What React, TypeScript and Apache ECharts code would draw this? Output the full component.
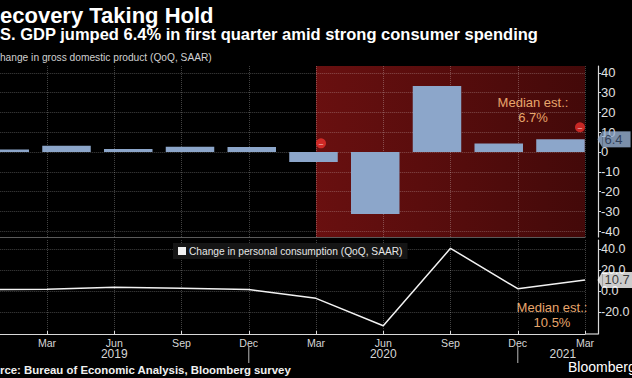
import React, { useEffect, useRef } from 'react';
import * as echarts from 'echarts';

// ---- data ----
const QUARTERS = ['Q4 2018', 'Q1 2019', 'Q2 2019', 'Q3 2019', 'Q4 2019', 'Q1 2020', 'Q2 2020', 'Q3 2020', 'Q4 2020', 'Q1 2021'];
const GDP = [1.2, 3.1, 1.5, 2.6, 2.5, -5.0, -31.4, 33.4, 4.3, 6.4];
const PCE = [1.4, 1.8, 3.7, 2.7, 1.6, -6.9, -33.2, 41.0, 2.3, 10.7];
const MONTHS = ['Mar', 'Jun', 'Sep', 'Dec'];
const YEARS = ['2019', '2020', '2021'];
const YEAR_DIVIDERS = [3, 7]; // tick index of Dec 2019 and Dec 2020
const TOP_TICKS = [-40, -30, -20, -10, 0, 10, 20, 30, 40];
const BOTTOM_TICKS = [-20, 0, 20, 40];
const GDP_MEDIAN = '6.7%';
const PCE_MEDIAN = '10.5%';
const RECESSION_START = 4; // tick index of Mar 2020
const MARKERS = [[4, 4.4], [8, 12.5]];

// ---- layout ----
const FONT = "'Liberation Sans', Arial, sans-serif";
const GRID_LEFT = -20.25;
const GRID_RIGHT = 47;
const BAR_MIN = -0.405;
const BAR_MAX = 9.397;
const BOTTOM_MIN = -41.1;
const GRID_COLOR = 'rgba(255,255,255,0.26)';

export default function App() {
  const ref = useRef<HTMLDivElement>(null);
  useEffect(() => {
    const chart = echarts.init(ref.current!, null, { renderer: 'svg' });
    const tickIndex = (i: number) => i - 1;
    const red = new echarts.graphic.LinearGradient(0, 0, 1, 0, [
      { offset: 0, color: 'rgba(175,26,26,0.6)' },
      { offset: 1, color: 'rgba(112,15,15,0.6)' },
    ]);
    const gridBase = { left: GRID_LEFT, right: GRID_RIGHT, containLabel: false, outerBoundsMode: 'none' };
    const option: any = {
      animation: false,
      backgroundColor: '#000',
      textStyle: { fontFamily: FONT },
      grid: [
        { ...gridBase, top: 66, height: 171 },
        { ...gridBase, top: 240, height: 94 },
      ],
      legend: {
        data: ['Change in personal consumption (QoQ, SAAR)'],
        left: 173,
        top: 243,
        icon: 'rect',
        itemWidth: 8,
        itemHeight: 8,
        itemGap: 3,
        padding: [3, 5],
        backgroundColor: 'rgba(22,22,22,0.95)',
        textStyle: { color: '#e6e6e6', fontSize: 10.2, fontFamily: FONT, padding: [0, 0, 0, -2] },
      },
      xAxis: [
        {
          type: 'value', gridIndex: 0, min: BAR_MIN, max: BAR_MAX,
          axisLine: { show: true, onZero: false, lineStyle: { color: '#5a5a5a', width: 1.2 } },
          axisTick: { show: false }, axisLabel: { show: false }, splitLine: { show: false },
        },
        {
          type: 'value', gridIndex: 0, min: -1, max: 8, interval: 1,
          axisLine: { show: false, onZero: false }, axisTick: { show: false }, axisLabel: { show: false },
          splitLine: { show: true, lineStyle: { color: GRID_COLOR, type: 'dotted' } },
        },
        {
          type: 'value', gridIndex: 1, min: -1, max: 8, interval: 1, position: 'bottom',
          axisLine: { show: true, onZero: false, lineStyle: { color: '#d8d8d8', width: 1.2 } },
          axisTick: { show: true, inside: true, length: 3, lineStyle: { color: '#d8d8d8', width: 1 } },
          axisLabel: {
            color: '#d6d6d6', fontSize: 10.6, margin: 3, fontFamily: FONT,
            formatter: (v: number) => MONTHS[((Math.round(v) % 4) + 4) % 4],
          },
          splitLine: { show: true, lineStyle: { color: GRID_COLOR, type: 'dotted' } },
        },
        {
          type: 'value', gridIndex: 1, min: -1, max: 8, position: 'bottom', offset: 12,
          axisLine: { show: false, onZero: false },
          axisTick: { show: false },
          axisLabel: {
            color: '#d6d6d6', fontSize: 12, margin: 2, fontFamily: FONT,
            customValues: [1, 5, 7.67],
            formatter: (v: number) => (v < 3 ? YEARS[0] : v < 7 ? YEARS[1] : YEARS[2]),
          },
          splitLine: { show: false },
        },
      ],
      yAxis: [
        {
          type: 'value', gridIndex: 0, position: 'right', offset: 13, min: -43, max: 43.5,
          axisLine: { show: true, onZero: false, lineStyle: { color: '#d8d8d8', width: 1.2 } },
          axisTick: { show: true, length: 3, customValues: TOP_TICKS, lineStyle: { color: '#d8d8d8', width: 1 } },
          axisLabel: { color: '#e0e0e0', fontSize: 13, margin: 3, customValues: TOP_TICKS, fontFamily: FONT },
          splitLine: { show: true, lineStyle: { color: GRID_COLOR, type: 'dotted' } },
        },
        {
          type: 'value', gridIndex: 1, position: 'right', offset: 13, min: BOTTOM_MIN, max: 49,
          axisLine: { show: true, onZero: false, lineStyle: { color: '#d8d8d8', width: 1.2 } },
          axisTick: { show: true, length: 3, customValues: BOTTOM_TICKS, lineStyle: { color: '#d8d8d8', width: 1 } },
          axisLabel: {
            color: '#e0e0e0', fontSize: 12.5, margin: 3, customValues: BOTTOM_TICKS, fontFamily: FONT,
            formatter: (v: number) => v.toFixed(1),
          },
          splitLine: { show: true, lineStyle: { color: GRID_COLOR, type: 'dotted' } },
        },
      ],
      series: [
        {
          name: 'GDP', type: 'bar', xAxisIndex: 0, yAxisIndex: 0,
          data: GDP.map((v, i) => [i, v]),
          barWidth: 48.5,
          itemStyle: { color: '#8ca6ca' },
        },
        {
          name: 'recession', type: 'scatter', xAxisIndex: 1, yAxisIndex: 0, z: 3,
          data: MARKERS.map((p, i) => ({ value: p, symbolOffset: [i === 0 ? 5 : -5, 0] })),
          symbol: 'circle', symbolSize: 10,
          itemStyle: { color: '#e8302c' },
          label: { show: true, position: 'inside', formatter: '–', color: '#fff', fontSize: 8 },
          markArea: {
            silent: true, z: -1,
            itemStyle: { color: red },
            data: [[{ xAxis: RECESSION_START }, { xAxis: 8 }]],
          },
        },
        {
          name: 'gdpTag', type: 'scatter', xAxisIndex: 1, yAxisIndex: 0, z: 5,
          data: [[tickIndex(GDP.length - 1), GDP[GDP.length - 1]]],
          symbol: 'path://M0,5L6,0L6,10Z', symbolSize: [5, 17], symbolOffset: [15, 0],
          itemStyle: { color: '#9ab3d4' },
          label: {
            show: true, position: 'right', distance: 0, formatter: String(GDP[GDP.length - 1]),
            backgroundColor: '#9ab3d4', color: '#1a2a44', fontSize: 13, padding: [2, 8, 1, 2], fontFamily: FONT,
          },
        },
        {
          name: 'Change in personal consumption (QoQ, SAAR)', type: 'line', xAxisIndex: 2, yAxisIndex: 1,
          data: PCE.map((v, i) => [tickIndex(i), v]),
          showSymbol: false, symbol: 'none',
          lineStyle: { color: '#f2f2f2', width: 1.5 },
          itemStyle: { color: '#f2f2f2' },
        },
        {
          name: 'pceTag', type: 'scatter', xAxisIndex: 2, yAxisIndex: 1, z: 5,
          data: [[tickIndex(PCE.length - 1), PCE[PCE.length - 1]]],
          symbol: 'path://M0,5L6,0L6,10Z', symbolSize: [5, 17], symbolOffset: [15, 0],
          itemStyle: { color: '#ffffff' },
          label: {
            show: true, position: 'right', distance: 0, formatter: String(PCE[PCE.length - 1]),
            backgroundColor: '#ffffff', color: '#111', fontSize: 13, padding: [2, 8, 1, 2], fontFamily: FONT,
          },
        },
        {
          // year dividers below the month labels, and the x-axis line's stub to the value axis
          name: 'dividers', type: 'custom', xAxisIndex: 2, yAxisIndex: 1, clip: false, silent: true, z: 5,
          data: [...YEAR_DIVIDERS.map((k) => [k, BOTTOM_MIN, 0]), [8, BOTTOM_MIN, 1]],
          renderItem: (params: any, api: any) => {
            const p = api.coord([api.value(0), api.value(1)]);
            if (api.value(2) === 1) {
              return {
                type: 'rect', shape: { x: p[0], y: p[1] - 0.6, width: 13, height: 1.2 },
                style: { fill: '#d8d8d8' },
              };
            }
            return {
              type: 'rect', shape: { x: p[0] - 0.6, y: p[1] + 12, width: 1.2, height: 17 },
              style: { fill: '#9a9a9a' },
            };
          },
        },
      ],
      graphic: [
        { type: 'text', x: -15.9, y: 15, style: { text: 'Recovery Taking Hold', fill: '#fff', font: `bold 22px ${FONT}`, verticalAlign: 'middle' } },
        { type: 'text', x: -16.5, y: 34, style: { text: 'U.S. GDP jumped 6.4% in first quarter amid strong consumer spending', fill: '#fff', font: `bold 16.5px ${FONT}`, verticalAlign: 'middle' } },
        { type: 'text', x: -7.4, y: 57, style: { text: 'Change in gross domestic product (QoQ, SAAR)', fill: '#d0d0d0', font: `10.2px ${FONT}`, verticalAlign: 'middle' } },
        { type: 'text', x: 533, y: 102, style: { text: 'Median est.:', fill: '#e8a66c', font: `13px ${FONT}`, align: 'center', verticalAlign: 'middle' } },
        { type: 'text', x: 533, y: 117, style: { text: GDP_MEDIAN, fill: '#e8a66c', font: `13px ${FONT}`, align: 'center', verticalAlign: 'middle' } },
        { type: 'text', x: 552, y: 307.5, style: { text: 'Median est.:', fill: '#e8a66c', font: `13px ${FONT}`, align: 'center', verticalAlign: 'middle' } },
        { type: 'text', x: 552, y: 322.5, style: { text: PCE_MEDIAN, fill: '#e8a66c', font: `13px ${FONT}`, align: 'center', verticalAlign: 'middle' } },
        { type: 'text', x: -21.5, y: 370, style: { text: 'Source: Bureau of Economic Analysis, Bloomberg survey', fill: '#f0f0f0', font: `bold 11.4px ${FONT}`, verticalAlign: 'middle' } },
        { type: 'text', x: 568, y: 367, style: { text: 'Bloomberg', fill: '#fff', font: `14px ${FONT}`, verticalAlign: 'middle' } },
      ],
    };
    chart.setOption(option);
    return () => chart.dispose();
  }, []);
  return <div ref={ref} style={{ position: 'fixed', left: 0, top: 0, width: 632, height: 378, background: '#000' }} />;
}
